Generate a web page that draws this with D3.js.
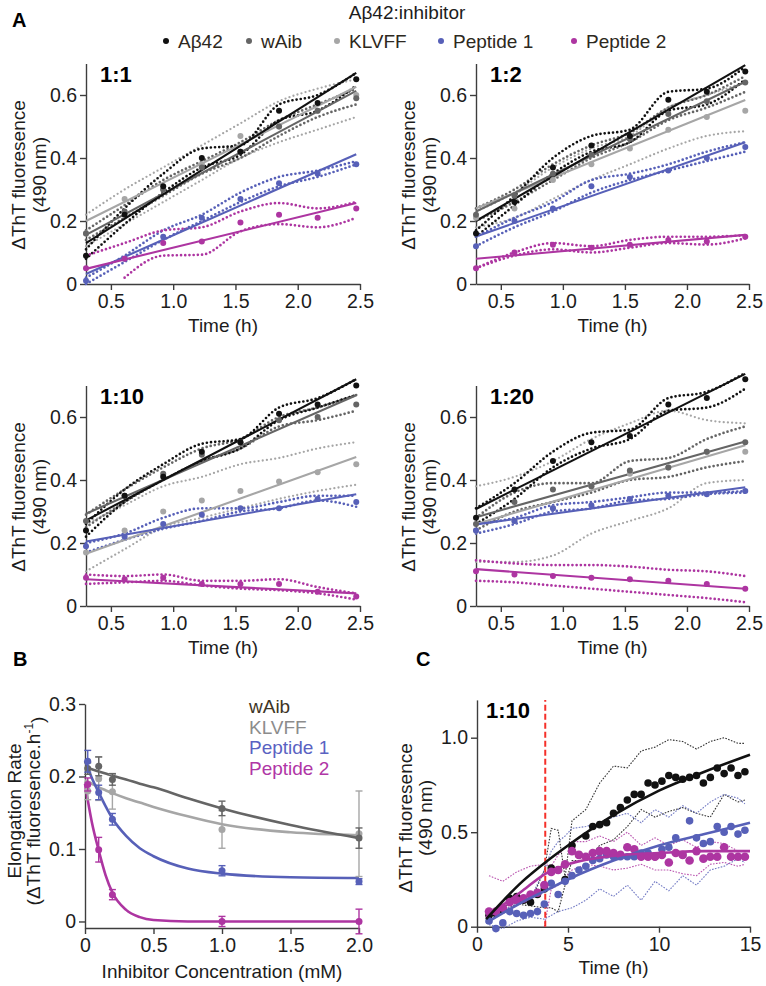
<!DOCTYPE html>
<html><head><meta charset="utf-8">
<script src="https://cdn.jsdelivr.net/npm/d3@7/dist/d3.min.js"></script>
<style>body{margin:0;background:#fff}</style>
</head><body>
<svg id="c" width="766" height="986" xmlns="http://www.w3.org/2000/svg"></svg>
<script>
// ---------------- DATA ----------------
const seriesNames = ["Aβ42", "wAib", "KLVFF", "Peptide 1", "Peptide 2"];
const panelLabelsA = ["1:1", "1:2", "1:10", "1:20"];
const timesA = [0.3, 0.61, 0.92, 1.23, 1.54, 1.85, 2.16, 2.47];
const fitTimesA = [0.3, 2.47];
const xTicksA = [0.5, 1.0, 1.5, 2.0, 2.5];
const yTicksA = [0, 0.2, 0.4, 0.6];

// panel 1:1  (rows: Aβ42, wAib, KLVFF, Peptide 1, Peptide 2)
const mean11 = [
  [0.09, 0.22, 0.31, 0.40, 0.42, 0.55, 0.575, 0.65],
  [0.16, 0.23, 0.30, 0.37, 0.42, 0.50, 0.55, 0.59],
  [0.16, 0.27, 0.30, 0.38, 0.47, 0.50, 0.55, 0.60],
  [0.01, 0.08, 0.15, 0.21, 0.27, 0.32, 0.35, 0.38],
  [0.05, 0.08, 0.13, 0.135, 0.195, 0.22, 0.21, 0.24]];
const upper11 = [
  [0.11, 0.24, 0.35, 0.43, 0.44, 0.57, 0.60, 0.67],
  [0.17, 0.25, 0.33, 0.39, 0.45, 0.52, 0.57, 0.62],
  [0.22, 0.30, 0.37, 0.44, 0.51, 0.58, 0.62, 0.65],
  [0.02, 0.09, 0.17, 0.22, 0.29, 0.34, 0.36, 0.39],
  [0.09, 0.13, 0.17, 0.18, 0.23, 0.257, 0.24, 0.26]];
const lower11 = [
  [0.08, 0.19, 0.29, 0.37, 0.41, 0.52, 0.55, 0.63],
  [0.14, 0.21, 0.28, 0.35, 0.40, 0.47, 0.53, 0.57],
  [0.12, 0.19, 0.26, 0.33, 0.40, 0.45, 0.49, 0.53],
  [0.0, 0.07, 0.14, 0.20, 0.26, 0.31, 0.34, 0.38],
  [null, 0.02, 0.09, 0.093, 0.167, 0.19, 0.18, 0.21]];
const fit11 = [[0.13, 0.67], [0.156, 0.613], [0.20, 0.626], [0.032, 0.412], [0.048, 0.257]];

// panel 1:2
const mean12 = [
  [0.16, 0.26, 0.37, 0.44, 0.47, 0.585, 0.61, 0.675],
  [0.22, 0.28, 0.35, 0.41, 0.46, 0.54, 0.58, 0.64],
  [0.21, 0.24, 0.33, 0.38, 0.43, 0.49, 0.53, 0.55],
  [0.12, 0.20, 0.24, 0.31, 0.34, 0.36, 0.40, 0.435],
  [0.05, 0.10, 0.125, 0.115, 0.125, 0.14, 0.135, 0.15]];
const upper12 = [
  [0.17, 0.28, 0.40, 0.47, 0.49, 0.61, 0.62, 0.69],
  [0.24, 0.30, 0.38, 0.44, 0.48, 0.56, 0.60, 0.66],
  [0.23, 0.29, 0.37, 0.43, 0.47, 0.56, 0.60, 0.64],
  [0.15, 0.21, 0.26, 0.33, 0.35, 0.38, 0.42, 0.45],
  [0.05, 0.10, 0.13, 0.12, 0.14, 0.15, 0.15, 0.155]];
const lower12 = [
  [0.15, 0.25, 0.35, 0.42, 0.45, 0.55, 0.57, 0.65],
  [0.20, 0.26, 0.33, 0.40, 0.45, 0.52, 0.56, 0.61],
  [0.18, 0.21, 0.27, 0.33, 0.38, 0.43, 0.47, 0.485],
  [0.12, 0.18, 0.23, 0.29, 0.33, 0.36, 0.39, 0.42],
  [0.05, 0.09, 0.11, 0.10, 0.115, 0.13, 0.125, 0.145]];
const fit12 = [[0.20, 0.695], [0.23, 0.642], [0.24, 0.584], [0.151, 0.45], [0.08, 0.156]];

// panel 1:10
const mean110 = [
  [0.24, 0.35, 0.41, 0.49, 0.52, 0.61, 0.64, 0.70],
  [0.27, 0.35, 0.42, 0.48, 0.52, 0.59, 0.60, 0.64],
  [0.17, 0.24, 0.30, 0.335, 0.365, 0.395, 0.425, 0.45],
  [0.19, 0.22, 0.26, 0.29, 0.31, 0.31, 0.34, 0.33],
  [0.09, 0.085, 0.09, 0.07, 0.07, 0.07, 0.045, 0.03]];
const upper110 = [
  [0.26, 0.37, 0.45, 0.515, 0.53, 0.63, 0.66, 0.72],
  [0.29, 0.37, 0.44, 0.50, 0.53, 0.60, 0.63, 0.67],
  [0.26, 0.32, 0.38, 0.41, 0.45, 0.47, 0.50, 0.52],
  [0.20, 0.23, 0.28, 0.31, 0.31, 0.33, 0.35, 0.35],
  [0.10, 0.095, 0.10, 0.08, 0.08, 0.085, 0.06, 0.04]];
const lower110 = [
  [0.22, 0.33, 0.40, 0.46, 0.50, 0.59, 0.63, 0.67],
  [0.25, 0.33, 0.40, 0.46, 0.50, 0.57, 0.59, 0.62],
  [0.11, 0.18, 0.25, 0.28, 0.31, 0.34, 0.365, 0.385],
  [0.17, 0.21, 0.245, 0.27, 0.30, 0.31, 0.335, 0.315],
  [0.07, 0.075, 0.08, 0.065, 0.055, 0.05, 0.04, 0.02]];
const fit110 = [[0.272, 0.72], [0.293, 0.669], [0.166, 0.473], [0.205, 0.355], [0.085, 0.04]];

// panel 1:20
const mean120 = [
  [0.28, 0.37, 0.46, 0.52, 0.54, 0.64, 0.66, 0.72],
  [0.26, 0.33, 0.37, 0.38, 0.43, 0.44, 0.49, 0.52],
  [0.24, 0.27, 0.31, 0.38, 0.42, 0.44, 0.49, 0.49],
  [0.24, 0.27, 0.31, 0.32, 0.34, 0.35, 0.355, 0.365],
  [0.11, 0.10, 0.095, 0.09, 0.085, 0.08, 0.07, 0.055]];
const upper120 = [
  [0.31, 0.39, 0.49, 0.55, 0.56, 0.66, 0.68, 0.74],
  [0.28, 0.36, 0.39, 0.39, 0.46, 0.47, 0.53, 0.57],
  [0.38, 0.41, 0.46, 0.53, 0.58, 0.62, 0.59, 0.58],
  [0.26, 0.28, 0.32, 0.33, 0.345, 0.36, 0.36, 0.365],
  [0.145, 0.135, 0.13, 0.13, 0.125, 0.115, 0.11, 0.095]];
const lower120 = [
  [0.26, 0.34, 0.44, 0.50, 0.53, 0.62, 0.63, 0.69],
  [0.24, 0.30, 0.33, 0.36, 0.40, 0.41, 0.44, 0.46],
  [0.14, 0.14, 0.16, 0.23, 0.27, 0.31, 0.39, 0.40],
  [0.23, 0.26, 0.30, 0.31, 0.335, 0.34, 0.355, 0.36],
  [0.08, 0.075, 0.065, 0.055, 0.045, 0.035, 0.025, 0.012]];
const fit120 = [[0.308, 0.737], [0.282, 0.522], [0.26, 0.51], [0.259, 0.377], [0.117, 0.055]];

// Panel B
const seriesB = ["wAib", "KLVFF", "Peptide 1", "Peptide 2"];
const concB = [0.02, 0.1, 0.2, 1.0, 2.0];
const rateWAib = [0.211, 0.214, 0.196, 0.156, 0.115];
const errWAib = [0.008, 0.013, 0.008, 0.010, 0.014];
const rateKLVFF = [0.180, 0.197, 0.179, 0.127, 0.121];
const errKLVFF = [0.012, 0.030, 0.024, 0.026, 0.059];
const rateP1 = [0.221, 0.178, 0.141, 0.070, 0.055];
const errP1 = [0.015, 0.010, 0.008, 0.007, 0.004];
const rateP2 = [0.189, 0.099, 0.037, 0.0, 0.0];
const errP2 = [0.009, 0.017, 0.007, 0.007, 0.017];
const fitConcB = [0, 0.05, 0.1, 0.15, 0.2, 0.3, 0.4, 0.5, 0.75, 1.0, 1.5, 2.0];
const fitWAib = [0.213, 0.210, 0.207, 0.204, 0.201, 0.196, 0.190, 0.185, 0.170, 0.156, 0.133, 0.115];
const fitKLVFF = [0.195, 0.190, 0.185, 0.181, 0.177, 0.170, 0.164, 0.158, 0.145, 0.134, 0.123, 0.119];
const fitP1 = [0.222, 0.198, 0.178, 0.159, 0.142, 0.118, 0.101, 0.090, 0.073, 0.066, 0.061, 0.060];
const fitP2 = [0.190, 0.137, 0.098, 0.064, 0.040, 0.016, 0.006, 0.002, 0.0, 0.0, 0.0, 0.0];
const xTicksB = [0, 0.5, 1.0, 1.5, 2.0];
const yTicksB = [0, 0.1, 0.2, 0.3];

// Panel C (1:10, long time course)
const timesC = [0.66, 1.04, 1.42, 1.80, 2.18, 2.56, 2.94, 3.32, 3.70, 4.08, 4.46, 4.84, 5.22, 5.60, 5.98, 6.36, 6.74, 7.12, 7.50, 7.88, 8.26, 8.64, 9.02, 9.40, 9.78, 10.16, 10.54, 10.92, 11.30, 11.68, 12.06, 12.44, 12.82, 13.20, 13.58, 13.96, 14.34, 14.72];
const meanCab42 = [0.06, 0.07, 0.09, 0.15, 0.16, 0.14, 0.13, 0.17, 0.20, 0.31, 0.30, 0.25, 0.43, 0.38, 0.48, 0.53, 0.54, 0.55, 0.60, 0.63, 0.67, 0.70, 0.70, 0.76, 0.75, 0.77, 0.80, 0.79, 0.78, 0.79, 0.80, 0.76, 0.79, 0.84, 0.81, 0.84, 0.80, 0.82];
const meanCp1 = [0.03, -0.01, 0.02, 0.08, 0.07, 0.06, 0.07, 0.08, 0.12, 0.23, 0.17, 0.24, 0.27, 0.30, 0.32, 0.35, 0.36, 0.38, 0.37, 0.37, 0.37, 0.37, 0.39, 0.39, 0.37, 0.41, 0.42, 0.47, 0.38, 0.56, 0.47, 0.44, 0.45, 0.53, 0.50, 0.53, 0.49, 0.51];
const meanCp2 = [0.08, 0.08, 0.10, 0.13, 0.14, 0.15, 0.17, 0.18, 0.22, 0.29, 0.30, 0.33, 0.40, 0.38, 0.37, 0.39, 0.40, 0.40, 0.39, 0.38, 0.42, 0.41, 0.37, 0.37, 0.37, 0.38, 0.34, 0.39, 0.38, 0.35, 0.40, 0.36, 0.37, 0.37, 0.42, 0.37, 0.37, 0.37];
const boundTimesC = [0.66, 1.42, 2.18, 2.94, 3.70, 4.08, 4.46, 4.84, 5.22, 5.98, 6.74, 7.50, 8.26, 9.02, 9.78, 10.54, 11.30, 12.06, 12.82, 13.58, 14.34, 14.72];
const upperCab42 = [0.07, 0.10, 0.15, 0.13, 0.30, 0.52, 0.51, 0.26, 0.56, 0.62, 0.76, 0.85, 0.84, 0.93, 0.95, 0.99, 0.98, 0.94, 0.98, 1.00, 0.97, 0.97];
const lowerCab42 = [0.05, 0.08, 0.12, 0.11, 0.10, 0.10, 0.08, 0.22, 0.35, 0.35, 0.43, 0.46, 0.53, 0.62, 0.58, 0.61, 0.63, 0.60, 0.58, 0.70, 0.66, 0.67];
const upperCp1 = [0.05, 0.09, 0.12, 0.15, 0.30, 0.40, 0.45, 0.48, 0.52, 0.53, 0.55, 0.58, 0.60, 0.55, 0.62, 0.58, 0.64, 0.60, 0.66, 0.70, 0.68, 0.65];
const lowerCp1 = [0.01, -0.01, 0.03, 0.05, 0.04, 0.06, 0.08, 0.09, 0.10, 0.14, 0.20, 0.16, 0.22, 0.14, 0.24, 0.19, 0.27, 0.22, 0.30, 0.32, 0.36, 0.34];
const upperCp2 = [0.27, 0.24, 0.29, 0.32, 0.33, 0.32, 0.38, 0.42, 0.45, 0.45, 0.48, 0.45, 0.50, 0.43, 0.47, 0.43, 0.46, 0.42, 0.45, 0.44, 0.40, 0.40];
const lowerCp2 = [null, null, null, null, 0.0, 0.20, 0.22, 0.26, 0.30, 0.33, 0.32, 0.30, 0.31, 0.33, 0.30, 0.30, 0.28, 0.27, 0.33, 0.34, 0.32, 0.33];
const fitTimesC = [0.5, 2.5, 3.75, 5, 7.5, 10, 12.5, 15];
const fitCab42 = [0.04, 0.24, 0.34, 0.43, 0.59, 0.72, 0.82, 0.91];
const fitCp1 = [0.02, 0.13, 0.19, 0.25, 0.35, 0.43, 0.49, 0.55];
const fitCp2 = [0.05, 0.19, 0.28, 0.33, 0.375, 0.39, 0.40, 0.40];
const markerTimeC = 3.75;
const xTicksC = [0, 5, 10, 15];
const yTicksC = [0, 0.5, 1.0];

// ---------------- DRAWING ----------------
const FONT = "'Liberation Sans', Arial, Helvetica, sans-serif";
const colors = ["#111111", "#656565", "#a6a6a6", "#5760b8", "#ad35a1"];
const svg = d3.select("#c").style("font-family", FONT);

const fmt1 = d => d === 0 ? "0" : d3.format(".1f")(d);

function styleAxis(g) {
  g.selectAll("path.domain").attr("stroke", "#3d3d3d").attr("stroke-width", 1.4);
  g.selectAll(".tick line").attr("stroke", "#3d3d3d").attr("stroke-width", 1.4);
  g.selectAll(".tick text").attr("font-size", 19.5).attr("fill", "#1c1c1c").attr("font-family", FONT);
}

function yLabel(cx1, cx2, cy, line1, line2) {
  const g = svg.append("g");
  g.append("text").attr("transform", `translate(${cx1},${cy}) rotate(-90)`)
    .attr("text-anchor", "middle").attr("dy", "0.35em").attr("font-size", 19).attr("fill", "#1c1c1c").text(line1);
  const t2 = g.append("text").attr("transform", `translate(${cx2},${cy}) rotate(-90)`)
    .attr("text-anchor", "middle").attr("dy", "0.35em").attr("font-size", 19).attr("fill", "#1c1c1c");
  return t2.text(line2);
}

// header
svg.append("text").attr("x", 12).attr("y", 27).attr("font-size", 20).attr("font-weight", "bold").text("A");
svg.append("text").attr("x", 407).attr("y", 19).attr("text-anchor", "middle").attr("font-size", 19).attr("fill", "#1c1c1c").text("Aβ42:inhibitor");
const legendX = [166, 249, 337, 441, 574];
seriesNames.forEach((n, i) => {
  svg.append("circle").attr("cx", legendX[i]).attr("cy", 41).attr("r", 3).attr("fill", colors[i]);
  svg.append("text").attr("x", legendX[i] + 12).attr("y", 48).attr("font-size", 19).attr("fill", "#2d2820").text(n);
});

// panel A
const layoutA = [
  {x0: 86, x1: 360, y0: 284}, {x0: 476, x1: 749, y0: 284},
  {x0: 86, x1: 360, y0: 606}, {x0: 476, x1: 749, y0: 606}];
const meansA = [mean11, mean12, mean110, mean120];
const uppersA = [upper11, upper12, upper110, upper120];
const lowersA = [lower11, lower12, lower110, lower120];
const fitsA = [fit11, fit12, fit110, fit120];
const drawOrder = [2, 1, 0, 3, 4];

layoutA.forEach((L, p) => {
  const x = d3.scaleLinear().domain([0.3, 2.5]).range([L.x0, L.x1]);
  const y = d3.scaleLinear().domain([0, 0.7]).range([L.y0, L.y0 - 220.5]);
  svg.append("g").attr("transform", `translate(0,${L.y0})`)
    .call(d3.axisBottom(x).tickValues(xTicksA).tickFormat(d3.format(".1f")).tickSize(6).tickSizeOuter(0).tickPadding(4))
    .call(styleAxis);
  svg.append("g").attr("transform", `translate(${L.x0},0)`)
    .call(d3.axisLeft(y).tickValues(yTicksA).tickFormat(fmt1).tickSize(6).tickSizeOuter(0).tickPadding(3))
    .call(styleAxis);
  const line = d3.line().defined(d => d[1] != null).x(d => x(d[0])).y(d => y(d[1])).curve(d3.curveMonotoneX);
  // bounds
  drawOrder.forEach(s => {
    [uppersA[p][s], lowersA[p][s]].forEach(arr => {
      svg.append("path").attr("d", line(timesA.map((t, i) => [t, arr[i]])))
        .attr("fill", "none").attr("stroke", colors[s])
        .attr("stroke-width", s === 2 ? 2.3 : 2.7).attr("stroke-linecap", "round")
        .attr("stroke-dasharray", "0 4.2");
    });
  });
  // fits
  drawOrder.forEach(s => {
    svg.append("path").attr("d", d3.line().x(d => x(d[0])).y(d => y(d[1]))(fitTimesA.map((t, i) => [t, fitsA[p][s][i]])))
      .attr("fill", "none").attr("stroke", colors[s]).attr("stroke-width", 2.1);
  });
  // points
  drawOrder.forEach(s => {
    svg.append("g").selectAll("circle").data(timesA.map((t, i) => [t, meansA[p][s][i]])).join("circle")
      .attr("cx", d => x(d[0])).attr("cy", d => y(d[1])).attr("r", 3).attr("fill", colors[s]);
  });
  svg.append("text").attr("x", L.x0 + 14).attr("y", L.y0 - 202).attr("font-size", 22).attr("font-weight", "bold").text(panelLabelsA[p]);
  svg.append("text").attr("x", (L.x0 + L.x1) / 2).attr("y", L.y0 + 48).attr("text-anchor", "middle")
    .attr("font-size", 19).attr("fill", "#1c1c1c").text("Time (h)");
  yLabel(L.x0 - 68, L.x0 - 47, L.y0 - 109, "ΔThT fluoresence", "(490 nm)");
});

// panel B
svg.append("text").attr("x", 13).attr("y", 666).attr("font-size", 20).attr("font-weight", "bold").text("B");
{
  const x = d3.scaleLinear().domain([0, 2.0]).range([85, 359]);
  const y = d3.scaleLinear().domain([-0.009, 0.3]).range([928, 704]);
  svg.append("g").attr("transform", `translate(0,928)`)
    .call(d3.axisBottom(x).tickValues(xTicksB).tickFormat(fmt1).tickSize(6).tickSizeOuter(0).tickPadding(4))
    .call(styleAxis);
  svg.append("g").attr("transform", `translate(85,0)`)
    .call(d3.axisLeft(y).tickValues(yTicksB).tickFormat(fmt1).tickSize(6).tickSizeOuter(0).tickPadding(3))
    .call(styleAxis);
  const colB = [colors[1], colors[2], colors[3], colors[4]];
  const rates = [rateWAib, rateKLVFF, rateP1, rateP2];
  const errs = [errWAib, errKLVFF, errP1, errP2];
  const fits = [fitWAib, fitKLVFF, fitP1, fitP2];
  const order = [1, 0, 2, 3];
  order.forEach(s => {
    svg.append("path").attr("d", d3.line().x(d => x(d[0])).y(d => y(d[1])).curve(d3.curveMonotoneX)(fitConcB.map((c, i) => [c, fits[s][i]])))
      .attr("fill", "none").attr("stroke", colB[s]).attr("stroke-width", 2.6);
  });
  order.forEach(s => {
    const g = svg.append("g").attr("stroke", colB[s]).attr("fill", colB[s]);
    concB.forEach((c, i) => {
      const cx = x(c), yt = y(rates[s][i] + errs[s][i]), yb = y(rates[s][i] - errs[s][i]);
      g.append("line").attr("x1", cx).attr("x2", cx).attr("y1", yt).attr("y2", yb).attr("stroke-width", 1.4);
      g.append("line").attr("x1", cx - 3.5).attr("x2", cx + 3.5).attr("y1", yt).attr("y2", yt).attr("stroke-width", 1.4);
      g.append("line").attr("x1", cx - 3.5).attr("x2", cx + 3.5).attr("y1", yb).attr("y2", yb).attr("stroke-width", 1.4);
      g.append("circle").attr("cx", cx).attr("cy", y(rates[s][i])).attr("r", 3.5).attr("stroke", "none");
    });
  });
  const legCol = ["#3e3526", "#8c8c8c", "#5a62c2", "#b036a6"];
  seriesB.forEach((n, i) => {
    svg.append("text").attr("x", 249).attr("y", 713 + i * 20.7).attr("font-size", 19).attr("fill", legCol[i]).text(n);
  });
  svg.append("text").attr("x", 222).attr("y", 978).attr("text-anchor", "middle").attr("font-size", 19).attr("fill", "#1c1c1c")
    .text("Inhibitor Concentration (mM)");
  const t = yLabel(14, 33, 811, "Elongation Rate", "(ΔThT fluoresence.h");
  t.append("tspan").attr("dy", "-0.55em").attr("font-size", 12).text("-1");
  t.append("tspan").attr("dy", "0.55em").text(")");
}

// panel C
svg.append("text").attr("x", 416).attr("y", 666).attr("font-size", 20).attr("font-weight", "bold").text("C");
{
  const x = d3.scaleLinear().domain([0, 15]).range([477, 750]);
  const y = d3.scaleLinear().domain([0, 1.2]).range([926.7, 699.9]);
  svg.append("g").attr("transform", `translate(0,926.7)`)
    .call(d3.axisBottom(x).tickValues(xTicksC).tickFormat(d3.format("d")).tickSize(6).tickSizeOuter(0).tickPadding(4))
    .call(styleAxis);
  svg.append("g").attr("transform", `translate(477,0)`)
    .call(d3.axisLeft(y).tickValues(yTicksC).tickFormat(fmt1).tickSize(6).tickSizeOuter(0).tickPadding(3))
    .call(styleAxis);
  const cC = [colors[0], colors[3], colors[4]];
  const uppers = [upperCab42, upperCp1, upperCp2];
  const lowers = [lowerCab42, lowerCp1, lowerCp2];
  const means = [meanCab42, meanCp1, meanCp2];
  const fits = [fitCab42, fitCp1, fitCp2];
  const ln = d3.line().defined(d => d[1] != null).x(d => x(d[0])).y(d => y(d[1]));
  [0, 1, 2].forEach(s => {
    [uppers[s], lowers[s]].forEach(arr => {
      svg.append("path").attr("d", ln(boundTimesC.map((t, i) => [t, arr[i]])))
        .attr("fill", "none").attr("stroke", cC[s]).attr("stroke-width", 1.1).attr("stroke-dasharray", "1.6 1.4")
        .attr("opacity", 0.85);
    });
  });
  svg.append("line").attr("x1", x(markerTimeC)).attr("x2", x(markerTimeC)).attr("y1", y(0)).attr("y2", y(1.2))
    .attr("stroke", "#f5302a").attr("stroke-width", 2).attr("stroke-dasharray", "6 3");
  [0, 1, 2].forEach(s => {
    svg.append("g").selectAll("circle").data(timesC.map((t, i) => [t, means[s][i]])).join("circle")
      .attr("cx", d => x(d[0])).attr("cy", d => y(d[1])).attr("r", s === 2 ? 4.3 : 3.8).attr("fill", cC[s]);
  });
  [1, 2, 0].forEach(s => {
    svg.append("path").attr("d", d3.line().x(d => x(d[0])).y(d => y(d[1])).curve(d3.curveMonotoneX)(fitTimesC.map((t, i) => [t, fits[s][i]])))
      .attr("fill", "none").attr("stroke", cC[s]).attr("stroke-width", 2.6);
  });
  svg.append("text").attr("x", 486).attr("y", 718).attr("font-size", 22).attr("font-weight", "bold").text("1:10");
  svg.append("text").attr("x", 613.5).attr("y", 974).attr("text-anchor", "middle").attr("font-size", 19).attr("fill", "#1c1c1c").text("Time (h)");
  yLabel(405, 425, 818, "ΔThT fluoresence", "(490 nm)");
}
</script>
</body></html>
